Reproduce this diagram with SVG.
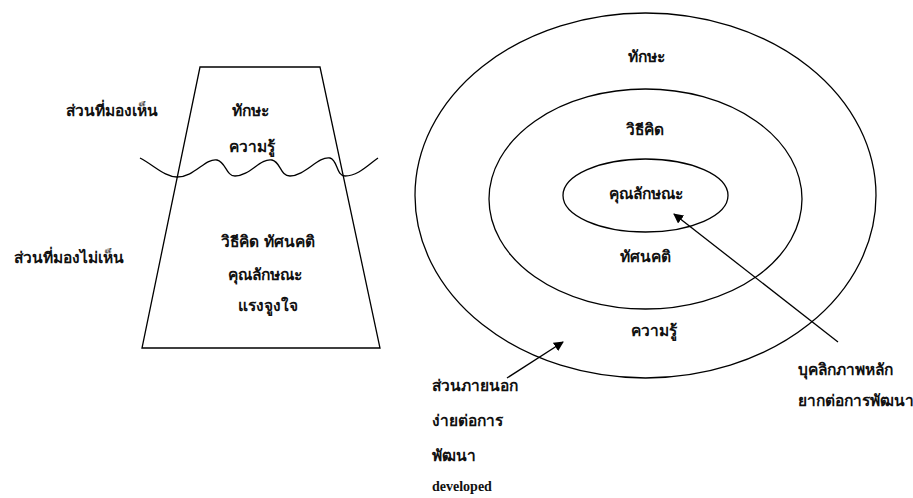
<svg xmlns="http://www.w3.org/2000/svg" width="913" height="498" viewBox="0 0 913 498">
<style>
.s{fill:none;stroke:#000;stroke-width:1.3}
.t{font-family:'Noto Sans','DejaVu Sans',sans-serif;font-size:15.5px;font-weight:bold;fill:#111;text-anchor:middle;dominant-baseline:central}
.l{text-anchor:start}
.e{font-family:'Liberation Serif',serif;font-size:14px;font-weight:bold;fill:#111;dominant-baseline:central}
</style>
<defs>
<marker id="ah" viewBox="0 0 10 10" refX="9" refY="5" markerWidth="10" markerHeight="10" markerUnits="userSpaceOnUse" orient="auto">
<path d="M0,0 L10,5 L0,10 z" fill="#000"/>
</marker>
</defs>
<rect width="913" height="498" fill="#fff"/>
<g id="iceberg">
<polygon class="s" points="200,67 320,67 380,348 142,348"/>
<path class="s" d="M140,158 C155,166 165,177 177,177 C195,177 205,158 217,160 C226,162 226,176 235,176 C250,176 260,158 272,160 C281,162 280,176 290,176 C305,176 318,156 330,158 C338,160 336,176 345,176 C358,176 368,165 378,158"/>
<text class="t" x="250" y="110">ทักษะ</text>
<text class="t" x="252" y="146">ความรู้</text>
<text class="t" x="268" y="241">วิธีคิด ทัศนคติ</text>
<text class="t" x="265" y="274">คุณลักษณะ</text>
<text class="t" x="268" y="305">แรงจูงใจ</text>
</g>
<g id="label-visible"><text class="t" x="112" y="110">ส่วนที่มองเห็น</text></g>
<g id="label-hidden"><text class="t" x="69" y="257">ส่วนที่มองไม่เห็น</text></g>
<g id="outer">
<ellipse class="s" cx="645.5" cy="195.5" rx="230.5" ry="182.5"/>
<text class="t" x="646" y="56">ทักษะ</text>
<text class="t" x="654" y="330">ความรู้</text>
</g>
<g id="middle">
<ellipse class="s" cx="645.5" cy="199" rx="156.5" ry="110"/>
<text class="t" x="645" y="129">วิธีคิด</text>
<text class="t" x="645" y="256">ทัศนคติ</text>
</g>
<g id="inner">
<ellipse class="s" cx="645.5" cy="195.5" rx="82.5" ry="36.5"/>
<text class="t" x="646" y="193">คุณลักษณะ</text>
</g>
<g id="label-outer">
<text class="t l" x="432" y="385">ส่วนภายนอก</text>
<text class="t l" x="432" y="420">ง่ายต่อการ</text>
<text class="t l" x="432" y="455">พัฒนา</text>
<text class="e" x="432" y="486">developed</text>
</g>
<g id="label-core">
<text class="t l" x="798" y="369">บุคลิกภาพหลัก</text>
<text class="t l" x="798" y="400">ยากต่อการพัฒนา</text>
</g>
<g id="connectors">
<line class="s" x1="838" y1="342" x2="674" y2="214" marker-end="url(#ah)"/>
<line class="s" x1="507" y1="378" x2="563" y2="342" marker-end="url(#ah)"/>
</g>
</svg>
